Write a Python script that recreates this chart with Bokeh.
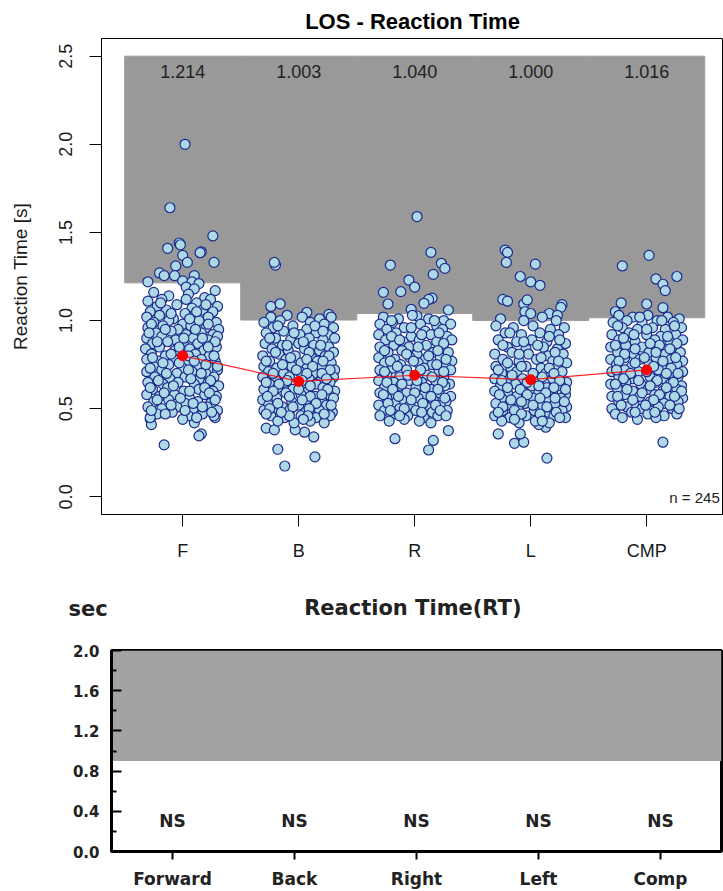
from bokeh.plotting import figure
from bokeh.models import FixedTicker, PrintfTickFormatter
from bokeh.embed import file_html
from bokeh.resources import INLINE
from bokeh.core.properties import value

FONT = "Liberation Sans"
FONT2 = "DejaVu Sans"

# ---------------- data: top chart ----------------
groups = ["F", "B", "R", "L", "CMP"]
thresholds = [1.214, 1.003, 1.040, 1.000, 1.016]
means = [0.80, 0.655, 0.69, 0.665, 0.72]
n_text = "n = 245"

# (jitter offset, reaction time)
F_pts = [
    (0.02, 2.00), (-0.11, 1.64), (0.26, 1.48), (-0.13, 1.41), (-0.03, 1.44), (-0.02, 1.43),
    (0.16, 1.39), (0.15, 1.385), (0.00, 1.37), (0.04, 1.33), (0.27, 1.33), (-0.06, 1.31),
    (-0.20, 1.27), (-0.16, 1.255), (-0.07, 1.255), (0.10, 1.255), (-0.30, 1.22), (0.00, 1.225),
    (0.08, 1.22), (0.14, 1.21), (0.03, 1.19), (0.10, 1.18),
    (-0.16, 0.295), (0.16, 0.357), (0.14, 0.346), (-0.28, 0.44), (-0.27, 0.41), (0.10, 0.42), (0.28, 0.45),
    (-0.25, 1.16), (-0.12, 1.14), (0.05, 1.15), (0.19, 1.13), (0.28, 1.17),
    (-0.30, 1.11), (-0.18, 1.12), (0.12, 1.10), (0.24, 1.12),
    (-0.22, 1.08), (-0.05, 1.09), (0.08, 1.07), (0.30, 1.08),
    (-0.28, 1.05), (-0.14, 1.06), (0.02, 1.04), (0.17, 1.06), (0.26, 1.05),
    (-0.31, 1.02), (-0.20, 1.03), (-0.08, 1.01), (0.10, 1.03), (0.22, 1.02),
    (-0.25, 0.99), (-0.12, 1.00), (0.00, 0.98), (0.14, 1.00), (0.29, 0.99),
    (-0.30, 0.96), (-0.17, 0.97), (-0.04, 0.95), (0.07, 0.97), (0.20, 0.96), (0.31, 0.95),
    (-0.23, 0.93), (-0.10, 0.94), (0.03, 0.92), (0.16, 0.93), (0.26, 0.92),
    (-0.31, 0.90), (-0.18, 0.91), (-0.06, 0.89), (0.09, 0.90), (0.22, 0.89), (0.30, 0.91),
    (-0.26, 0.87), (-0.13, 0.88), (0.01, 0.86), (0.13, 0.87), (0.25, 0.86),
    (-0.32, 0.84), (-0.20, 0.85), (-0.07, 0.83), (0.06, 0.84), (0.18, 0.83), (0.29, 0.85),
    (-0.27, 0.81), (-0.15, 0.80), (0.11, 0.81), (0.23, 0.80),
    (-0.31, 0.78), (-0.21, 0.77), (-0.08, 0.78), (0.04, 0.76), (0.16, 0.78), (0.28, 0.77),
    (-0.25, 0.74), (-0.12, 0.75), (0.00, 0.73), (0.12, 0.74), (0.24, 0.73),
    (-0.31, 0.71), (-0.18, 0.72), (-0.05, 0.70), (0.08, 0.71), (0.20, 0.70), (0.30, 0.72),
    (-0.24, 0.68), (-0.11, 0.67), (0.02, 0.68), (0.15, 0.67), (0.27, 0.68),
    (-0.30, 0.65), (-0.17, 0.64), (-0.04, 0.65), (0.10, 0.64), (0.22, 0.65), (0.31, 0.63),
    (-0.26, 0.61), (-0.13, 0.62), (0.01, 0.60), (0.14, 0.61), (0.26, 0.60),
    (-0.31, 0.58), (-0.20, 0.57), (-0.07, 0.58), (0.06, 0.56), (0.19, 0.58), (0.29, 0.57),
    (-0.25, 0.54), (-0.12, 0.55), (0.02, 0.53), (0.13, 0.54), (0.24, 0.53),
    (-0.30, 0.51), (-0.18, 0.50), (-0.05, 0.51), (0.09, 0.50), (0.21, 0.51), (0.30, 0.49),
    (-0.22, 0.47), (-0.09, 0.48), (0.05, 0.46), (0.17, 0.47), (0.27, 0.46),
    (-0.28, 0.45), (0.00, 0.44), (0.12, 0.45),
    (-0.19, 1.10), (0.03, 1.12), (0.20, 1.09), (-0.10, 1.04), (0.12, 1.05), (-0.27, 0.98),
    (0.06, 1.01), (0.22, 0.98), (-0.15, 0.95), (0.11, 0.95), (-0.29, 0.93), (0.01, 0.90),
    (0.17, 0.90), (-0.22, 0.88), (0.28, 0.88), (-0.03, 0.85), (0.22, 0.85), (-0.10, 0.81),
    (0.05, 0.80), (0.27, 0.80), (-0.26, 0.79), (0.10, 0.77), (-0.17, 0.76), (0.20, 0.75),
    (-0.03, 0.76), (0.30, 0.74), (-0.28, 0.73), (0.05, 0.72), (-0.14, 0.70), (0.16, 0.70),
    (-0.21, 0.66), (0.07, 0.67), (0.24, 0.66), (-0.08, 0.63), (0.19, 0.62), (-0.28, 0.62),
    (0.06, 0.60), (-0.16, 0.59), (0.23, 0.59), (-0.02, 0.56), (0.28, 0.55), (-0.22, 0.55),
    (0.09, 0.53), (-0.10, 0.52), (0.17, 0.51), (-0.27, 0.49), (0.02, 0.49), (0.25, 0.48),
    (-0.15, 0.47),
]
B_pts = [
    (-0.20, 1.315), (-0.21, 1.33), (-0.24, 1.08), (-0.16, 1.095), (0.07, 1.047), (0.26, 1.035),
    (-0.18, 0.27), (-0.12, 0.175), (0.14, 0.227), (0.13, 0.34), (0.05, 0.367), (-0.28, 0.39),
    (-0.21, 0.38), (-0.03, 0.38),
    (-0.24, 1.02), (-0.10, 1.03), (0.03, 1.02), (0.18, 1.01), (0.28, 1.02),
    (-0.30, 0.99), (-0.16, 1.00), (0.10, 0.99), (0.22, 0.98),
    (-0.22, 0.96), (-0.05, 0.97), (0.07, 0.95), (0.30, 0.96),
    (-0.28, 0.93), (-0.13, 0.94), (0.01, 0.92), (0.15, 0.93), (0.25, 0.92),
    (-0.20, 0.90), (-0.07, 0.89), (0.09, 0.90), (0.21, 0.89), (0.31, 0.90),
    (-0.29, 0.87), (-0.14, 0.86), (0.00, 0.87), (0.13, 0.86), (0.26, 0.85),
    (-0.23, 0.84), (-0.09, 0.83), (0.05, 0.84), (0.18, 0.83), (0.30, 0.82),
    (-0.31, 0.80), (-0.17, 0.81), (-0.03, 0.80), (0.11, 0.79), (0.23, 0.80),
    (-0.25, 0.77), (-0.11, 0.78), (0.02, 0.76), (0.16, 0.77), (0.28, 0.76),
    (-0.30, 0.74), (-0.19, 0.73), (-0.06, 0.74), (0.07, 0.73), (0.20, 0.74), (0.31, 0.72),
    (-0.26, 0.71), (-0.13, 0.70), (0.01, 0.71), (0.13, 0.70), (0.25, 0.69),
    (-0.31, 0.68), (-0.20, 0.67), (-0.08, 0.68), (0.09, 0.67), (0.19, 0.66), (0.30, 0.68),
    (-0.25, 0.64), (-0.12, 0.65), (0.04, 0.63), (0.15, 0.64), (0.27, 0.65),
    (-0.30, 0.61), (-0.18, 0.62), (-0.05, 0.61), (0.08, 0.60), (0.21, 0.62), (0.31, 0.60),
    (-0.24, 0.58), (-0.11, 0.59), (0.02, 0.58), (0.14, 0.57), (0.26, 0.58),
    (-0.31, 0.55), (-0.19, 0.56), (-0.06, 0.54), (0.07, 0.55), (0.20, 0.54), (0.30, 0.56),
    (-0.26, 0.52), (-0.14, 0.51), (0.00, 0.52), (0.12, 0.51), (0.24, 0.52),
    (-0.30, 0.49), (-0.20, 0.48), (-0.08, 0.49), (0.06, 0.48), (0.18, 0.49), (0.29, 0.48),
    (-0.24, 0.46), (-0.12, 0.45), (0.02, 0.46), (0.15, 0.45), (0.27, 0.46),
    (-0.18, 0.43), (-0.04, 0.42), (0.10, 0.43), (0.22, 0.42),
    (-0.18, 0.97), (0.14, 0.97), (-0.04, 0.93), (0.21, 0.94), (-0.25, 0.90), (0.04, 0.88),
    (-0.10, 0.86), (0.19, 0.86), (-0.20, 0.82), (0.09, 0.82), (0.26, 0.80), (-0.07, 0.79),
    (-0.28, 0.77), (0.07, 0.78), (0.21, 0.77), (-0.14, 0.75), (0.12, 0.74), (-0.02, 0.72),
    (0.27, 0.72), (-0.22, 0.70), (0.07, 0.70), (0.20, 0.70), (-0.10, 0.66), (0.03, 0.66),
    (0.24, 0.67), (-0.28, 0.65), (-0.17, 0.64), (0.10, 0.63), (0.00, 0.61), (0.25, 0.61),
    (-0.22, 0.60), (-0.08, 0.57), (0.10, 0.57), (0.20, 0.58), (-0.27, 0.57), (0.03, 0.55),
    (0.15, 0.53), (-0.18, 0.53), (-0.05, 0.51), (0.28, 0.52), (0.09, 0.50), (-0.25, 0.50),
    (0.22, 0.47), (-0.08, 0.46), (0.08, 0.46), (-0.28, 0.47), (-0.15, 0.48), (0.04, 0.44),
]
R_pts = [
    (0.02, 1.59), (0.14, 1.387), (-0.21, 1.315), (0.23, 1.325), (0.26, 1.296), (0.16, 1.262),
    (-0.05, 1.23), (0.00, 1.19), (-0.27, 1.16), (-0.12, 1.164), (0.15, 1.127), (0.12, 1.12),
    (-0.23, 1.094), (0.08, 1.098), (0.29, 1.06), (-0.03, 1.064), (0.02, 1.026),
    (-0.17, 0.33), (0.16, 0.32), (0.12, 0.266), (0.29, 0.376),
    (-0.27, 1.02), (-0.14, 1.01), (-0.02, 1.03), (0.12, 1.01), (0.25, 1.00),
    (-0.30, 0.98), (-0.19, 0.99), (0.05, 0.98), (0.19, 0.97), (0.31, 0.98),
    (-0.24, 0.95), (-0.09, 0.96), (0.09, 0.94), (0.24, 0.95),
    (-0.31, 0.92), (-0.16, 0.93), (-0.03, 0.91), (0.14, 0.92), (0.28, 0.91),
    (-0.25, 0.89), (-0.10, 0.88), (0.04, 0.89), (0.19, 0.88), (0.32, 0.89),
    (-0.30, 0.85), (-0.18, 0.86), (-0.05, 0.85), (0.10, 0.86), (0.24, 0.84),
    (-0.23, 0.82), (-0.11, 0.83), (0.02, 0.81), (0.16, 0.82), (0.29, 0.82),
    (-0.31, 0.79), (-0.17, 0.78), (-0.04, 0.79), (0.09, 0.78), (0.22, 0.79), (0.32, 0.77),
    (-0.26, 0.76), (-0.12, 0.75), (0.03, 0.76), (0.15, 0.75), (0.27, 0.74),
    (-0.30, 0.72), (-0.19, 0.73), (-0.07, 0.72), (0.08, 0.73), (0.21, 0.71), (0.31, 0.72),
    (-0.24, 0.69), (-0.13, 0.68), (0.11, 0.69), (0.25, 0.68),
    (-0.31, 0.66), (-0.18, 0.65), (-0.05, 0.66), (0.06, 0.65), (0.18, 0.66), (0.30, 0.64),
    (-0.26, 0.62), (-0.12, 0.63), (0.01, 0.62), (0.14, 0.61), (0.26, 0.63),
    (-0.30, 0.59), (-0.20, 0.58), (-0.07, 0.59), (0.08, 0.58), (0.21, 0.59), (0.31, 0.57),
    (-0.24, 0.56), (-0.11, 0.55), (0.03, 0.56), (0.16, 0.55), (0.27, 0.54),
    (-0.31, 0.52), (-0.17, 0.53), (-0.04, 0.52), (0.10, 0.51), (0.22, 0.52),
    (-0.26, 0.49), (-0.13, 0.50), (0.01, 0.49), (0.15, 0.48), (0.28, 0.49),
    (-0.30, 0.46), (-0.18, 0.47), (-0.06, 0.46), (0.08, 0.45), (0.20, 0.46),
    (-0.22, 0.43), (-0.09, 0.44), (0.04, 0.43), (0.14, 0.42),
    (-0.20, 1.00), (0.17, 1.00), (-0.03, 0.96), (0.21, 0.93), (-0.20, 0.91), (0.06, 0.92),
    (-0.13, 0.89), (0.25, 0.87), (0.03, 0.85), (-0.26, 0.83), (0.20, 0.83), (-0.07, 0.81),
    (0.12, 0.80), (-0.21, 0.77), (0.27, 0.78), (-0.01, 0.77), (0.19, 0.75), (-0.15, 0.74),
    (0.05, 0.72), (-0.26, 0.71), (0.25, 0.71), (-0.06, 0.69), (0.15, 0.68), (0.02, 0.66),
    (-0.24, 0.65), (0.24, 0.65), (-0.11, 0.64), (0.09, 0.62), (-0.19, 0.61), (0.20, 0.61),
    (0.00, 0.59), (-0.27, 0.58), (0.14, 0.57), (-0.14, 0.57), (0.26, 0.56), (-0.03, 0.55),
    (0.07, 0.53), (-0.23, 0.53), (0.18, 0.52), (-0.09, 0.50), (0.22, 0.49), (-0.21, 0.49),
    (0.06, 0.48), (-0.13, 0.46), (0.27, 0.46),
]
L_pts = [
    (-0.22, 1.40), (-0.20, 1.387), (-0.21, 1.33), (0.04, 1.32), (-0.09, 1.25), (0.00, 1.22),
    (0.08, 1.20), (-0.24, 1.12), (-0.20, 1.11), (-0.06, 1.094), (-0.03, 1.117), (-0.05, 1.05),
    (0.00, 1.04), (0.27, 1.09), (0.26, 1.075), (0.16, 1.04), (0.23, 1.03),
    (0.14, 0.22), (-0.28, 0.357), (-0.14, 0.304), (-0.06, 0.31), (-0.09, 0.357), (0.13, 0.395),
    (0.07, 0.41),
    (-0.26, 1.01), (-0.06, 1.00), (0.10, 1.02), (0.22, 1.00),
    (-0.30, 0.97), (-0.15, 0.96), (0.02, 0.97), (0.17, 0.95), (0.29, 0.96),
    (-0.22, 0.93), (-0.08, 0.92), (0.08, 0.93), (0.24, 0.92),
    (-0.28, 0.89), (-0.12, 0.88), (0.01, 0.89), (0.14, 0.88), (0.30, 0.87),
    (-0.20, 0.85), (-0.04, 0.84), (0.11, 0.85), (0.23, 0.84),
    (-0.31, 0.81), (-0.16, 0.82), (-0.02, 0.81), (0.15, 0.80), (0.28, 0.81),
    (-0.24, 0.78), (-0.10, 0.77), (0.05, 0.78), (0.19, 0.77), (0.31, 0.76),
    (-0.30, 0.74), (-0.17, 0.73), (-0.04, 0.74), (0.09, 0.73), (0.23, 0.74),
    (-0.25, 0.70), (-0.12, 0.71), (0.13, 0.70), (0.27, 0.71),
    (-0.31, 0.67), (-0.19, 0.66), (-0.07, 0.67), (0.07, 0.66), (0.19, 0.67), (0.31, 0.65),
    (-0.26, 0.63), (-0.13, 0.64), (0.01, 0.63), (0.14, 0.62), (0.26, 0.63),
    (-0.31, 0.60), (-0.20, 0.59), (-0.07, 0.60), (0.07, 0.59), (0.19, 0.60), (0.30, 0.58),
    (-0.25, 0.56), (-0.12, 0.57), (0.02, 0.56), (0.14, 0.55), (0.26, 0.56),
    (-0.30, 0.53), (-0.18, 0.52), (-0.05, 0.53), (0.09, 0.52), (0.21, 0.53), (0.31, 0.51),
    (-0.24, 0.49), (-0.11, 0.50), (0.03, 0.49), (0.15, 0.48), (0.27, 0.49),
    (-0.31, 0.46), (-0.18, 0.45), (-0.04, 0.46), (0.08, 0.45), (0.20, 0.46), (0.30, 0.45),
    (-0.25, 0.43), (-0.10, 0.42), (0.04, 0.43), (0.16, 0.42),
    (-0.18, 0.93), (0.16, 0.91), (-0.06, 0.88), (0.25, 0.89), (-0.24, 0.86), (0.06, 0.86),
    (-0.10, 0.81), (0.21, 0.82), (0.09, 0.79), (-0.20, 0.76), (0.24, 0.77), (-0.08, 0.74),
    (0.16, 0.73), (-0.28, 0.72), (0.02, 0.70), (0.20, 0.70), (-0.16, 0.69), (0.10, 0.68),
    (-0.25, 0.66), (0.25, 0.66), (-0.03, 0.65), (0.07, 0.63), (-0.20, 0.62), (0.20, 0.62),
    (-0.09, 0.61), (0.30, 0.61), (0.13, 0.59), (-0.27, 0.58), (-0.03, 0.58), (0.08, 0.56),
    (-0.17, 0.55), (0.21, 0.56), (-0.08, 0.54), (0.29, 0.54), (0.02, 0.52), (-0.24, 0.51),
    (0.14, 0.51), (-0.14, 0.49), (0.22, 0.48), (0.08, 0.47), (-0.28, 0.48), (-0.08, 0.47),
    (0.25, 0.45), (-0.14, 0.44), (0.10, 0.43),
]
CMP_pts = [
    (0.02, 1.37), (-0.21, 1.31), (0.26, 1.25), (0.08, 1.236), (0.14, 1.206), (0.16, 1.17),
    (-0.22, 1.10), (0.00, 1.094), (0.14, 1.073), (-0.27, 1.05), (0.14, 0.31),
    (-0.24, 1.03), (-0.12, 1.02), (0.01, 1.03), (0.18, 1.02), (0.28, 1.01),
    (-0.29, 0.99), (-0.17, 1.00), (-0.04, 0.99), (0.09, 1.00), (0.23, 0.99),
    (-0.21, 0.96), (-0.08, 0.95), (0.05, 0.96), (0.16, 0.95), (0.30, 0.96),
    (-0.30, 0.92), (-0.15, 0.93), (0.00, 0.92), (0.12, 0.91), (0.25, 0.92),
    (-0.24, 0.89), (-0.10, 0.88), (0.07, 0.89), (0.20, 0.88), (0.31, 0.89),
    (-0.31, 0.85), (-0.18, 0.86), (-0.04, 0.85), (0.11, 0.86), (0.25, 0.84),
    (-0.25, 0.82), (-0.11, 0.81), (0.02, 0.82), (0.16, 0.81), (0.29, 0.82),
    (-0.31, 0.78), (-0.19, 0.79), (-0.06, 0.78), (0.08, 0.79), (0.21, 0.78), (0.31, 0.77),
    (-0.26, 0.75), (-0.13, 0.74), (0.02, 0.75), (0.14, 0.74), (0.26, 0.75),
    (-0.30, 0.71), (-0.19, 0.72), (-0.07, 0.71), (0.10, 0.72), (0.21, 0.70), (0.31, 0.71),
    (-0.24, 0.68), (-0.12, 0.67), (0.03, 0.68), (0.15, 0.67), (0.27, 0.68),
    (-0.31, 0.64), (-0.18, 0.65), (-0.05, 0.64), (0.08, 0.65), (0.20, 0.64), (0.30, 0.63),
    (-0.25, 0.61), (-0.12, 0.60), (0.01, 0.61), (0.14, 0.60), (0.26, 0.61),
    (-0.30, 0.57), (-0.19, 0.58), (-0.06, 0.57), (0.07, 0.58), (0.20, 0.57), (0.31, 0.56),
    (-0.24, 0.54), (-0.11, 0.53), (0.03, 0.54), (0.15, 0.53), (0.27, 0.54),
    (-0.30, 0.50), (-0.17, 0.51), (-0.04, 0.50), (0.10, 0.51), (0.22, 0.50),
    (-0.27, 0.47), (-0.13, 0.48), (0.01, 0.47), (0.15, 0.46), (0.26, 0.47),
    (-0.21, 0.45), (-0.08, 0.44), (0.08, 0.45),
    (-0.06, 1.02), (0.13, 1.00), (-0.25, 0.97), (0.24, 0.97), (0.00, 0.95), (-0.11, 0.92),
    (0.18, 0.91), (-0.20, 0.90), (0.03, 0.87), (0.26, 0.87), (-0.27, 0.86), (-0.10, 0.84),
    (0.20, 0.84), (0.08, 0.82), (-0.19, 0.81), (0.25, 0.79), (-0.02, 0.79), (0.14, 0.77),
    (-0.24, 0.77), (-0.10, 0.76), (0.06, 0.74), (0.21, 0.73), (-0.26, 0.72), (0.00, 0.71),
    (-0.14, 0.70), (0.17, 0.70), (0.27, 0.70), (-0.20, 0.67), (0.09, 0.66), (-0.07, 0.66),
    (0.23, 0.65), (-0.27, 0.64), (0.03, 0.63), (0.17, 0.62), (-0.17, 0.61), (0.30, 0.60),
    (-0.04, 0.59), (0.11, 0.58), (-0.25, 0.57), (0.24, 0.57), (-0.12, 0.55), (0.06, 0.55),
    (0.20, 0.52), (-0.22, 0.52), (-0.01, 0.52), (0.28, 0.50), (-0.10, 0.48), (0.07, 0.48),
]
group_points = [F_pts, B_pts, R_pts, L_pts, CMP_pts]

# ---------------- data: bottom chart ----------------
dirs = ["Forward", "Back", "Right", "Left", "Comp"]
sig = ["NS", "NS", "NS", "NS", "NS"]
rt_limit = 0.9
rt_max = 2.0
rt_ticks = [0.0, 0.4, 0.8, 1.2, 1.6, 2.0]
rt_minor = [0.2, 0.6, 1.0, 1.4, 1.8]
unit_label = "sec"
rt_title = "Reaction Time(RT)"

xpos = list(range(1, len(groups) + 1))

# ================= top figure =================
p1 = figure(width=723, height=580, x_range=(0.3, 5.662), y_range=(-0.1, 2.6),
            output_backend="svg", toolbar_location=None,
            min_border_left=101, min_border_right=0, min_border_top=38, min_border_bottom=66)
p1.title.text = "LOS - Reaction Time"
p1.title.align = "center"
p1.title.text_font = FONT
p1.title.text_font_size = "22px"
p1.title.text_font_style = "bold"
p1.title.text_color = "black"
p1.title.standoff = 9
p1.grid.visible = False
p1.outline_line_color = "black"
p1.outline_line_width = 1

p1.quad(left=[x - 0.5 for x in xpos], right=[x + 0.5 for x in xpos],
        bottom=thresholds, top=[2.5] * len(xpos),
        fill_color="#999999", line_color="#9c9c9c", line_width=1)

p1.text(x=xpos, y=[2.41] * len(xpos), text=["%.3f" % t for t in thresholds],
        text_font=value(FONT), text_font_size="18px", text_align="center",
        text_baseline="middle", text_color="#222222")

px, py = [], []
for x0, pts in zip(xpos, group_points):
    for dx, yy in pts:
        px.append(x0 + dx)
        py.append(yy)
p1.scatter(px, py, marker="circle", size=10, fill_color="#ADD8E6",
           line_color="#1c2a8c", line_width=1.2)

p1.line(xpos, means, line_color="red", line_width=1.2, line_alpha=0.85)
p1.scatter(xpos, means, marker="circle", size=10, fill_color="red", line_color="red")

p1.text(x=[5.63], y=[-0.005], text=[n_text], text_font=value(FONT),
        text_font_size="15px", text_align="right", text_baseline="middle",
        text_color="#222222")

p1.xaxis.ticker = FixedTicker(ticks=xpos)
p1.xaxis.major_label_overrides = {x: g for x, g in zip(xpos, groups)}
p1.xaxis.minor_tick_line_color = None
p1.xaxis.major_tick_out = 12
p1.xaxis.major_tick_in = 0
p1.xaxis.major_label_standoff = 14

p1.yaxis.ticker = FixedTicker(ticks=[0.0, 0.5, 1.0, 1.5, 2.0, 2.5])
p1.yaxis.formatter = PrintfTickFormatter(format="%.1f")
p1.yaxis.major_label_orientation = "vertical"
p1.yaxis.minor_tick_line_color = None
p1.yaxis.major_tick_out = 12
p1.yaxis.major_tick_in = 0
p1.yaxis.major_label_standoff = 17
p1.yaxis.axis_label = "Reaction Time [s]"
p1.yaxis.axis_label_standoff = 26

for ax in (p1.xaxis[0], p1.yaxis[0]):
    ax.axis_line_color = "black"
    ax.major_tick_line_color = "black"
    ax.major_label_text_font = FONT
    ax.major_label_text_font_size = "18px"
    ax.major_label_text_color = "#1a1a1a"
    ax.axis_label_text_font = FONT
    ax.axis_label_text_font_size = "19px"
    ax.axis_label_text_font_style = "normal"
    ax.axis_label_text_color = "#1a1a1a"

# ================= header of the bottom chart =================
ppu = 122.0  # pixels per category in the bottom chart
p0 = figure(width=723, height=50, x_range=(0.5 - 111 / ppu, 0.5 + 612 / ppu), y_range=(0, 50),
            output_backend="svg", toolbar_location=None,
            x_axis_location=None, y_axis_location=None,
            min_border_left=0, min_border_right=0, min_border_top=0, min_border_bottom=0)
p0.grid.visible = False
p0.outline_line_color = None
p0.text(x=[0.147], y=[22], text=[unit_label], text_font=value(FONT2), text_font_size="21px",
        text_font_style="bold", text_align="left", text_baseline="middle", text_color="#222222")
p0.text(x=[2.97], y=[23], text=[rt_title], text_font=value(FONT2), text_font_size="21px",
        text_font_style="bold", text_align="center", text_baseline="middle", text_color="#222222")

# ================= bottom figure =================
p2 = figure(width=723, height=261, x_range=(0.5, 5.5), y_range=(0, rt_max),
            output_backend="svg", toolbar_location=None,
            min_border_left=111, min_border_right=2, min_border_top=20, min_border_bottom=39)
p2.grid.visible = False
p2.outline_line_color = "black"
p2.outline_line_width = 3

p2.quad(left=[0.5], right=[0.5 + len(dirs)], bottom=[rt_limit], top=[rt_max],
        fill_color="#a3a3a3", line_color=None)

p2.text(x=xpos, y=[0.3] * len(xpos), text=sig, text_font=value(FONT2),
        text_font_size="17px", text_font_style="bold", text_align="center",
        text_baseline="middle", text_color="#222222")

p2.yaxis.ticker = FixedTicker(ticks=rt_ticks, minor_ticks=rt_minor)
p2.yaxis.formatter = PrintfTickFormatter(format="%.1f")
p2.yaxis.major_tick_in = 10
p2.yaxis.major_tick_out = 0
p2.yaxis.minor_tick_in = 5
p2.yaxis.minor_tick_out = 0
p2.yaxis.major_tick_line_width = 2
p2.yaxis.minor_tick_line_width = 2
p2.yaxis.major_label_standoff = 12
p2.yaxis.major_label_text_font_size = "15px"

p2.xaxis.ticker = FixedTicker(ticks=xpos)
p2.xaxis.major_label_overrides = {x: d for x, d in zip(xpos, dirs)}
p2.xaxis.minor_tick_line_color = None
p2.xaxis.major_tick_out = 8
p2.xaxis.major_tick_in = 0
p2.xaxis.major_tick_line_width = 2
p2.xaxis.major_label_standoff = 9
p2.xaxis.major_label_text_font_size = "17px"

for ax in (p2.xaxis[0], p2.yaxis[0]):
    ax.axis_line_color = "black"
    ax.axis_line_width = 3
    ax.major_tick_line_color = "black"
    ax.major_label_text_font = FONT2
    ax.major_label_text_font_style = "bold"
    ax.major_label_text_color = "#222222"
p2.yaxis.minor_tick_line_color = "black"

# separate roots so that Bokeh does not align the plot frames of the two charts
open("out.html", "w").write(file_html([p1, p0, p2], INLINE))
